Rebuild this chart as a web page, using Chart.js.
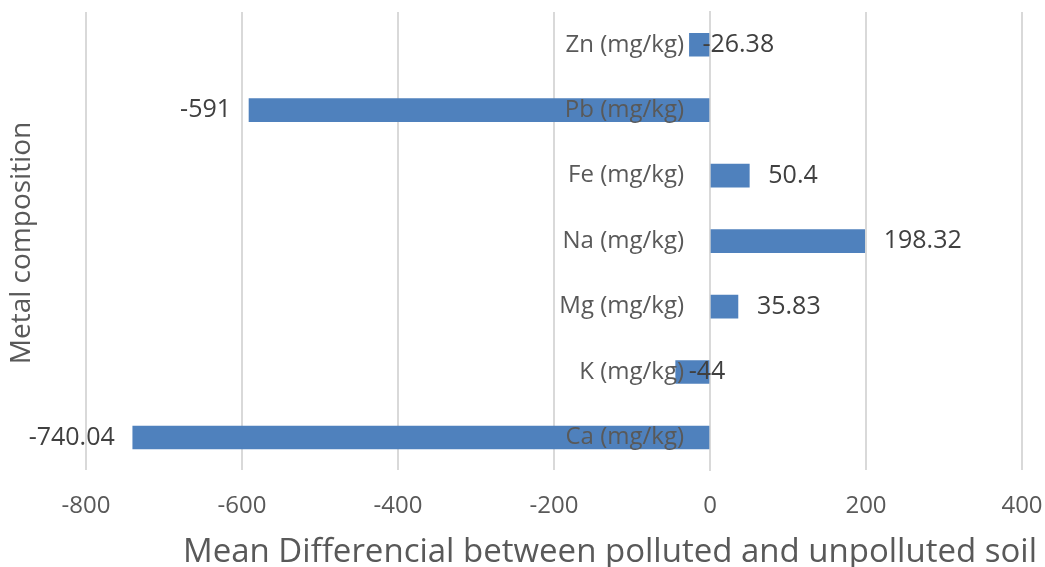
<!DOCTYPE html>
<html>
<head>
<meta charset="utf-8">
<script src="https://cdn.jsdelivr.net/npm/chart.js@4"></script>
<style>
  html, body { margin: 0; padding: 0; background: #fff; }
  #wrap { width: 1045px; height: 567px; }
</style>
</head>
<body>
<div id="wrap"><canvas id="chart" width="1045" height="567"></canvas></div>
<script>
// categories, top to bottom
const categories = ['Zn (mg/kg)', 'Pb (mg/kg)', 'Fe (mg/kg)', 'Na (mg/kg)', 'Mg (mg/kg)', 'K (mg/kg)', 'Ca (mg/kg)'];
const meanDiff = [-26.38, -591, 50.4, 198.32, 35.83, -44, -740.04];
const valueLabels = ['-26.38', '-591', '50.4', '198.32', '35.83', '-44', '-740.04'];
const xTicks = [-800, -600, -400, -200, 0, 200, 400];

const FONT = '"Open Sans", sans-serif';

// category labels sit next to the zero line (Excel puts the axis at 0),
// drawn over the bars; then value labels at bar ends
const barLabels = {
    id: 'barLabels',
    afterDatasetsDraw(chart) {
        const ctx = chart.ctx;
        const yScale = chart.scales.y;
        const zeroX = chart.scales.x.getPixelForValue(0);
        ctx.save();
        ctx.textBaseline = 'middle';

        ctx.font = '24px ' + FONT;
        ctx.fillStyle = '#595959';
        ctx.textAlign = 'right';
        yScale.getLabels().forEach((lab, i) => {
            ctx.fillText(lab, zeroX - 26, yScale.getPixelForTick(i));
        });

        const meta = chart.getDatasetMeta(0);
        ctx.font = '25px ' + FONT;
        ctx.fillStyle = '#404040';
        meta.data.forEach((bar, i) => {
            const v = meanDiff[i];
            if (v >= -100) {
                ctx.textAlign = 'left';
                ctx.fillText(valueLabels[i], bar.x + (v >= 0 ? 19 : 13), bar.y);
            } else {
                ctx.textAlign = 'right';
                ctx.fillText(valueLabels[i], bar.x - 18, bar.y);
            }
        });
        ctx.restore();
    }
};

// axis titles
const axisTitles = {
    id: 'axisTitles',
    afterDraw(chart) {
        const ctx = chart.ctx;
        ctx.save();
        ctx.fillStyle = '#595959';
        ctx.textAlign = 'center';
        ctx.textBaseline = 'middle';
        ctx.font = '33px ' + FONT;
        ctx.fillText('Mean Differencial between polluted and unpolluted soil', 610, 553);
        ctx.font = '28px ' + FONT;
        ctx.translate(22, 243);
        ctx.rotate(-Math.PI / 2);
        ctx.fillText('Metal composition', 0, 0);
        ctx.restore();
    }
};

new Chart(document.getElementById('chart'), {
    type: 'bar',
    data: {
        labels: categories,
        datasets: [{
            data: meanDiff,
            backgroundColor: '#4F81BD',
            barThickness: 23
        }]
    },
    options: {
        indexAxis: 'y',
        responsive: false,
        animation: false,
        layout: { padding: { left: 86, right: 23, top: 12, bottom: 46 } },
        plugins: {
            legend: { display: false },
            tooltip: { enabled: false }
        },
        scales: {
            x: {
                min: -800,
                max: 400,
                afterBuildTicks(scale) {
                    scale.ticks = xTicks.map(v => ({ value: v }));
                },
                grid: {
                    color: '#D9D9D9',
                    lineWidth: 2,
                    drawTicks: true,
                    tickLength: 22,
                    tickColor: 'rgba(0,0,0,0)'
                },
                border: { display: false },
                ticks: {
                    color: '#595959',
                    font: { family: FONT, size: 24 },
                    padding: 0
                }
            },
            y: {
                position: { x: 0 },
                grid: { display: false },
                border: { display: true, color: '#D9D9D9', width: 2 },
                ticks: { display: false }
            }
        }
    },
    plugins: [barLabels, axisTitles]
});
</script>
</body>
</html>
